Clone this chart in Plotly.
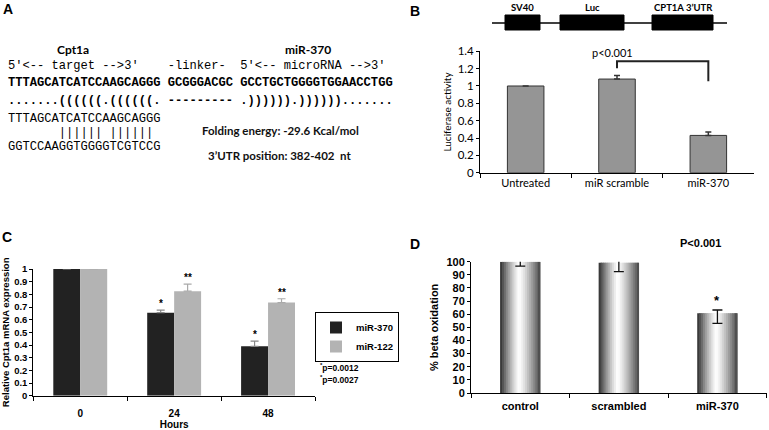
import plotly.graph_objects as go

W, H = 769, 430
def fx(p): return p / W
def fy(p): return 1 - p / H

# ---------------- Panel A (text) ----------------
a_gene_label = "Cpt1a"
a_mir_label = "miR-370"
a_lines = [
    "5'<-- target -->3'    -linker-  5'<-- microRNA -->3'",
    "TTTAGCATCATCCAAGCAGGG GCGGGACGC GCCTGCTGGGGTGGAACCTGG",
    ".......((((((.((((((. --------- .)))))).)))))).......",
    "TTTAGCATCATCCAAGCAGGG",
    "       |||||| ||||||",
    "GGTCCAAGGTGGGGTCGTCCG",
]
a_line_bold = [False, True, True, False, False, False]
a_folding = "Folding energy: -29.6 Kcal/mol"
a_position = "3\u2019UTR position: 382-402  nt"

# ---------------- Panel B ----------------
b_categories = ["Untreated", "miR scramble", "miR-370"]
b_values = [1.0, 1.08, 0.43]
b_errors = [0.0, 0.04, 0.04]
b_ticks = [0, 0.2, 0.4, 0.6, 0.8, 1.0, 1.2, 1.4]
b_tick_labels = ["0", "0.2", "0.4", "0.6", "0.8", "1", "1.2", "1.4"]
b_bracket_x = ["miR scramble", "miR scramble", "miR-370", "miR-370"]
b_bracket_y = [1.205, 1.285, 1.285, 1.055]
b_pvalue = "p<0.001"
gene_elements = ["SV40", "Luc", "CPT1A 3\u2019UTR"]

# ---------------- Panel C ----------------
c_hours = ["0", "24", "48"]
c_mir370 = [1.0, 0.655, 0.39]
c_mir370_err = [0.01, 0.02, 0.04]
c_mir122 = [1.0, 0.825, 0.735]
c_mir122_err = [0.03, 0.055, 0.03]
c_mir370_marks = ["", "*", "*"]
c_mir122_marks = ["", "**", "**"]
c_ticks = [0, 0.1, 0.2, 0.3, 0.4, 0.5, 0.6, 0.7, 0.8, 0.9, 1.0]
c_tick_labels = ["0", "0.1", "0.2", "0.3", "0.4", "0.5", "0.6", "0.7", "0.8", "0.9", "1"]
c_pnotes = ["<sup>*</sup>p=0.0012", "<sup>*</sup>p=0.0027"]

# ---------------- Panel D ----------------
d_categories = ["control", "scrambled", "miR-370"]
d_values = [100, 99.2, 60.7]
d_err_plus = [3.0, 4.6, 2.5]
d_err_minus = [3.3, 6.8, 7.6]
d_marks = ["", "", "*"]
d_ticks = [0, 10, 20, 30, 40, 50, 60, 70, 80, 90, 100]
d_pvalue = "P<0.001"

SANS = "Lato, Carlito, 'Liberation Sans', sans-serif"
NARROW = "'Liberation Sans Narrow', 'Arial Narrow', 'Liberation Sans', sans-serif"
MONO = "'Liberation Mono', 'Courier New', monospace"

fig = go.Figure()

# ---- B bars ----
fig.add_trace(go.Bar(
    x=b_categories, y=b_values, width=0.4,
    marker=dict(color="#959595", line=dict(color="#333333", width=1)),
    error_y=dict(type="data", array=b_errors, symmetric=False,
                 arrayminus=[0, 0, 0], color="#333333", thickness=1.5, width=3),
    xaxis="x", yaxis="y", showlegend=False, cliponaxis=False,
))
fig.add_trace(go.Scatter(
    x=b_bracket_x, y=b_bracket_y, mode="lines",
    line=dict(color="#222222", width=2), xaxis="x", yaxis="y",
    showlegend=False, hoverinfo="skip", cliponaxis=False,
))

# ---- C bars ----
fig.add_trace(go.Bar(
    x=c_hours, y=c_mir370, name="miR-370",
    marker=dict(color="#222222", line=dict(width=0)),
    error_y=dict(type="data", array=c_mir370_err, symmetric=False,
                 arrayminus=[0, 0, 0], color="#888888", thickness=1.2, width=4),
    xaxis="x2", yaxis="y2", cliponaxis=False,
))
fig.add_trace(go.Bar(
    x=c_hours, y=c_mir122, name="miR-122",
    marker=dict(color="#b3b3b3", line=dict(width=0)),
    error_y=dict(type="data", array=c_mir122_err, symmetric=False,
                 arrayminus=[0, 0, 0], color="#aaaaaa", thickness=1.2, width=4),
    xaxis="x2", yaxis="y2", cliponaxis=False,
))

# ---- D bars (cylinder-like shading from slices) ----
d_width = 0.41
N = 21
peak = 0.47
for i in range(N):
    t = (i + 0.5) / N
    if t <= peak:
        d = (peak - t) / peak
        lo = 45
    else:
        d = (t - peak) / (1 - peak)
        lo = 70
    b = int(round(255 - (255 - lo) * d ** 1.25))
    col = f"rgb({b},{b},{b})"
    step = d_width / N
    w = step * (1.8 if i < N - 1 else 1.0)
    fig.add_trace(go.Bar(
        x=d_categories, y=d_values, width=w, offset=-d_width / 2 + i * step,
        marker=dict(color=col, line=dict(width=0)),
        xaxis="x3", yaxis="y3", showlegend=False, hoverinfo="skip", cliponaxis=False,
    ))
mid = N // 2
fig.add_trace(go.Bar(
    x=d_categories, y=d_values, width=d_width / N, offset=-d_width / 2 + mid * d_width / N,
    marker=dict(color="rgba(0,0,0,0)", line=dict(width=0)),
    error_y=dict(type="data", array=d_err_plus, arrayminus=d_err_minus, symmetric=False,
                 color="#111111", thickness=1.3, width=5),
    xaxis="x3", yaxis="y3", showlegend=False, cliponaxis=False,
))

annotations = []

def pann(text, px, py, font, xanchor="center", yanchor="middle"):
    annotations.append(dict(text=text, x=fx(px), y=fy(py), xref="paper", yref="paper",
                            xanchor=xanchor, yanchor=yanchor, showarrow=False, font=font))

# Panel letters
for letter, (px, py) in zip("ABCD", [(8, 9), (415, 11), (7, 237), (415, 244)]):
    pann(f"<b>{letter}</b>", px, py, dict(family="'Liberation Sans', Arial, sans-serif", size=14, color="#000"))

# Panel A text
pann("<b>" + a_gene_label + "</b>", 73, 49, dict(family=SANS, size=12, color="#000"))
pann("<b>" + a_mir_label + "</b>", 308, 49, dict(family=SANS, size=12, color="#000"))
a_line_y = [66, 83, 101, 119, 133, 147]
for line, ly, bold in zip(a_lines, a_line_y, a_line_bold):
    txt = line.replace(" ", "\u00a0")
    if bold:
        txt = "<b>" + txt + "</b>"
    pann(txt, 6, ly, dict(family=MONO, size=12.1, color="#000"), xanchor="left")
pann("<b>" + a_folding + "</b>", 280, 130, dict(family=SANS, size=11.5, color="#111"))
pann("<b>" + a_position + "</b>", 279, 155, dict(family=SANS, size=11.5, color="#111"))

# Panel B gene diagram labels
for lab, cx in zip(gene_elements, [522, 592, 683]):
    pann("<b>" + lab + "</b>", cx, 7, dict(family=SANS, size=9.5, color="#000"))
# B p-value
annotations.append(dict(text=b_pvalue, x=0.5, y=b_bracket_y[1], xref="x", yref="y", xshift=41,
                        xanchor="center", yanchor="bottom", showarrow=False,
                        font=dict(family=SANS, size=11, color="#000")))

# Panel C significance marks (x given as category index)
for i, h in enumerate(c_hours):
    if c_mir370_marks[i]:
        annotations.append(dict(text="<b>" + c_mir370_marks[i] + "</b>", x=i, y=c_mir370[i] + c_mir370_err[i],
                                xref="x2", yref="y2", xshift=-13.5, xanchor="center", yanchor="bottom",
                                yshift=-1, showarrow=False, font=dict(family=NARROW, size=10, color="#000")))
    if c_mir122_marks[i]:
        annotations.append(dict(text="<b>" + c_mir122_marks[i] + "</b>", x=i, y=c_mir122[i] + c_mir122_err[i],
                                xref="x2", yref="y2", xshift=13.5, xanchor="center", yanchor="bottom",
                                yshift=-1, showarrow=False, font=dict(family=NARROW, size=10, color="#000")))
for note, ny in zip(c_pnotes, [367, 379]):
    pann("<b>" + note + "</b>", 339, ny, dict(family=NARROW, size=8.5, color="#000"))

# Panel D marks
for i, c in enumerate(d_categories):
    if d_marks[i]:
        annotations.append(dict(text="<b>" + d_marks[i] + "</b>", x=i, y=d_values[i] + d_err_plus[i],
                                xref="x3", yref="y3", xanchor="center", yanchor="bottom", yshift=0,
                                showarrow=False, font=dict(family=NARROW, size=13, color="#000")))
pann("<b>" + d_pvalue + "</b>", 700, 243, dict(family=NARROW, size=11, color="#000"))

# Gene diagram shapes
shapes = [dict(type="line", xref="paper", yref="paper", x0=fx(492), x1=fx(727), y0=fy(23), y1=fy(23),
               line=dict(color="#000", width=1.5))]
for x0, x1 in [(505, 540), (560, 624), (652, 713)]:
    shapes.append(dict(type="rect", xref="paper", yref="paper", x0=fx(x0), x1=fx(x1), y0=fy(30), y1=fy(15),
                       fillcolor="#000", line=dict(color="#000", width=1)))

axis_common = dict(showline=True, linecolor="#000", linewidth=1, showgrid=False, zeroline=False,
                   ticks="outside", tickcolor="#000", fixedrange=True, automargin=False)

fig.update_layout(
    template="none",
    width=W, height=H, margin=dict(l=0, r=0, t=0, b=0, pad=0),
    paper_bgcolor="white", plot_bgcolor="white",
    barmode="group", bargap=0.426, bargroupgap=0,
    annotations=annotations, shapes=shapes,
    legend=dict(x=fx(315), y=fy(312), xanchor="left", yanchor="top", bordercolor="#000", borderwidth=1,
                bgcolor="white", font=dict(family=NARROW, size=9.5, color="#000", weight="bold"),
                itemwidth=30, tracegroupgap=0),
    xaxis=dict(**axis_common, type="category", domain=[fx(480), fx(754)], anchor="y", range=[-0.5, 2.5],
               tickson="boundaries", ticklen=4, tickfont=dict(family=SANS, size=11, color="#000")),
    yaxis=dict(**axis_common, domain=[fy(172.7), fy(51.3)], anchor="x", range=[0, 1.4],
               tickvals=b_ticks, ticktext=b_tick_labels, ticklen=3,
               tickfont=dict(family=SANS, size=11.5, color="#000"),
               title=dict(text="Luciferase activity", standoff=4, font=dict(family=SANS, size=10, color="#000"))),
    xaxis2=dict(**axis_common, type="category", domain=[fx(33.3), fx(315)], anchor="y2", range=[-0.5, 2.5],
                tickson="boundaries", ticklen=4, ticklabelstandoff=8,
                tickfont=dict(family=NARROW, size=10, color="#000", weight="bold"),
                title=dict(text="Hours", standoff=4, font=dict(family=NARROW, size=10, color="#000", weight="bold"))),
    yaxis2=dict(**axis_common, domain=[fy(395.7), fy(269)], anchor="x2", range=[0, 1.0],
                tickvals=c_ticks, ticktext=c_tick_labels, ticklen=3,
                tickfont=dict(family=NARROW, size=9.5, color="#000", weight="bold"),
                title=dict(text="Relative Cpt1a mRNA expression", standoff=3,
                           font=dict(family=NARROW, size=9.5, color="#000", weight="bold"))),
    xaxis3=dict(**axis_common, type="category", domain=[fx(471), fx(766.7)], anchor="y3", range=[-0.5, 2.5],
                tickson="boundaries", ticklen=4, ticklabelstandoff=3,
                tickfont=dict(family=NARROW, size=11, color="#000", weight="bold")),
    yaxis3=dict(**axis_common, domain=[fy(393), fy(261.7)], anchor="x3", range=[0, 100],
                tickvals=d_ticks, ticklen=3,
                tickfont=dict(family=NARROW, size=11, color="#000", weight="bold"),
                title=dict(text="% beta oxidation", standoff=5,
                           font=dict(family=NARROW, size=11, color="#000", weight="bold"))),
)

fig.write_html("out.html", config={"displayModeBar": False},
               post_script="document.body.style.margin='0';document.body.style.padding='0';")
